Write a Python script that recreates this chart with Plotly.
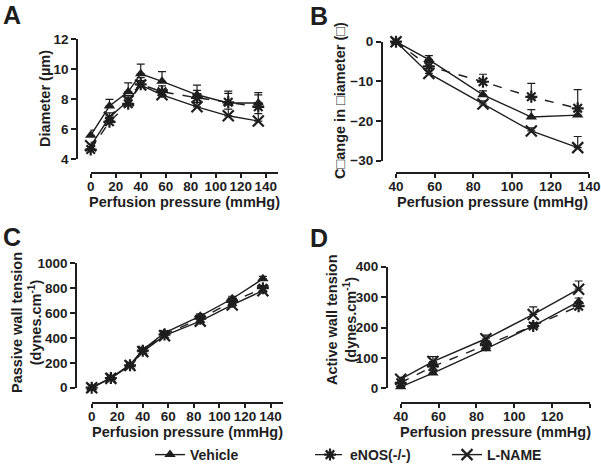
import plotly.graph_objects as go

# perfusion pressures (mmHg)
press_full = [0, 15, 30, 40, 57, 85, 110, 134]
press_act = [40, 57, 85, 110, 134]

# A - diameter (um)
veh_diam = [5.6, 7.55, 8.5, 9.7, 9.2, 8.3, 7.75, 7.75]
veh_diam_err = [0.35, 0.45, 0.6, 0.65, 0.65, 0.65, 0.8, 0.7]
enos_diam = [4.65, 6.5, 7.7, 9.0, 8.5, 8.1, 7.8, 7.5]
enos_diam_err = [0.3, 0.4, 0.45, 0.45, 0.4, 0.5, 0.6, 0.8]
lname_diam = [4.9, 6.8, 7.9, 8.95, 8.3, 7.5, 6.9, 6.55]
lname_diam_err = [0.25, 0.3, 0.35, 0.3, 0.3, 0.3, 0.45, 0.5]

# B - change in diameter (%)
veh_chg = [0, -4.5, -13.4, -19.0, -18.5]
veh_chg_err = [0.3, 1.0, 1.0, 1.9, 1.0]
enos_chg = [0, -6.2, -10.1, -13.9, -16.8]
enos_chg_err = [0.3, 1.0, 1.9, 3.4, 4.7]
lname_chg = [0, -8.0, -15.7, -22.5, -26.7]
lname_chg_err = [0.3, 0.8, 0.8, 0.8, 2.8]

# C - passive wall tension
veh_pas = [0, 80, 185, 305, 440, 575, 715, 875]
veh_pas_err = [5, 8, 10, 12, 15, 18, 20, 20]
enos_pas = [0, 78, 180, 298, 428, 555, 690, 800]
enos_pas_err = [5, 8, 10, 12, 15, 15, 18, 20]
lname_pas = [0, 75, 178, 290, 418, 535, 665, 780]
lname_pas_err = [5, 8, 10, 12, 15, 15, 18, 20]

# D - active wall tension
veh_act = [5, 50, 130, 205, 285]
veh_act_err = [5, 10, 10, 10, 12]
enos_act = [18, 72, 142, 205, 270]
enos_act_err = [5, 10, 10, 10, 10]
lname_act = [30, 88, 163, 243, 326]
lname_act_err = [6, 16, 12, 25, 27]

names = ["Vehicle", "eNOS(-/-)", "L-NAME"]
INK = "#1e1e1e"
W, H = 601, 471
FONT = "Liberation Sans, Arial, sans-serif"

styles = [
    dict(symbol="triangle-up", size=10, dash="solid", mline=0),
    dict(symbol="asterisk-open", size=10, dash="dash", mline=2.2),
    dict(symbol="x-thin-open", size=11, dash="solid", mline=2.2),
]
legends = ["legend", "legend2", "legend3"]

panels = [
    ("x", "y", press_full, [(veh_diam, veh_diam_err), (enos_diam, enos_diam_err), (lname_diam, lname_diam_err)]),
    ("x2", "y2", press_act, [(veh_chg, veh_chg_err), (enos_chg, enos_chg_err), (lname_chg, lname_chg_err)]),
    ("x3", "y3", press_full, [(veh_pas, veh_pas_err), (enos_pas, enos_pas_err), (lname_pas, lname_pas_err)]),
    ("x4", "y4", press_act, [(veh_act, veh_act_err), (enos_act, enos_act_err), (lname_act, lname_act_err)]),
]

fig = go.Figure()
for pi, (xa, ya, xs, series) in enumerate(panels):
    for si, (vals, err) in enumerate(series):
        st = styles[si]
        fig.add_trace(go.Scatter(
            x=xs, y=vals, xaxis=xa, yaxis=ya,
            mode="lines+markers", name=names[si],
            legend=legends[si], showlegend=(pi == 0),
            cliponaxis=False,
            line=dict(color=INK, width=1.4, dash=st["dash"]),
            marker=dict(symbol=st["symbol"], size=st["size"], color=INK,
                        line=dict(color=INK, width=st["mline"])),
            error_y=dict(type="data", array=err, arrayminus=[0] * len(err),
                         symmetric=False, color=INK, thickness=1.2, width=4),
        ))


def px_x(p):
    return p / W


def px_y(p):
    return 1 - p / H


tickfont = dict(family=FONT, size=13.5, color=INK, weight="bold")


def xaxis(dom, rng, pos):
    return dict(domain=[px_x(dom[0]), px_x(dom[1])], range=rng, dtick=20,
                anchor="free", position=px_y(pos), showline=True, linecolor=INK,
                linewidth=1.5, ticks="outside", ticklen=4, tickwidth=1.5,
                tickcolor=INK, showgrid=False, zeroline=False, tickfont=tickfont,
                tickangle=0, automargin=False, ticklabelstandoff=-3)


def yaxis(dom, rng, dt, pos):
    return dict(domain=[px_y(dom[1]), px_y(dom[0])], range=rng, dtick=dt,
                anchor="free", position=px_x(pos), showline=True, linecolor=INK,
                linewidth=1.5, ticks="outside", ticklen=5, tickwidth=1.5,
                tickcolor=INK, showgrid=False, zeroline=False, tickfont=tickfont,
                automargin=False)


legfont = dict(family=FONT, size=14, color=INK, weight="bold")
leg = dict(orientation="h", yanchor="bottom", y=0.0, xanchor="left",
           font=legfont, itemwidth=30, bgcolor="rgba(0,0,0,0)", borderwidth=0)

fig.update_layout(
    template="none",
    width=W, height=H, margin=dict(l=0, r=0, t=0, b=0, pad=0),
    plot_bgcolor="white", paper_bgcolor="white",
    font=dict(family=FONT, color=INK),
    xaxis=xaxis((90.7, 278.3), [0, 150], 173.3),
    yaxis=yaxis((39.3, 159.3), [4, 12], 2, 77),
    xaxis2=xaxis((396, 589.3), [40, 140], 173.3),
    yaxis2=yaxis((41.7, 160.7), [-30, 0], 10, 381.7),
    xaxis3=xaxis((91.7, 283.3), [0, 150], 403.3),
    yaxis3=yaxis((263.3, 387.7), [0, 1000], 200, 76),
    xaxis4=xaxis((400.7, 590), [40, 140], 403.3),
    yaxis4=yaxis((266.7, 388.3), [0, 400], 100, 386.7),
    legend=dict(leg, x=px_x(150)),
    legend2=dict(leg, x=px_x(310)),
    legend3=dict(leg, x=px_x(447)),
)

titlefont = dict(family=FONT, size=14.5, color=INK, weight="bold")
letterfont = dict(family=FONT, size=25, color=INK, weight="bold")


def note(text, x, y, font, angle=0, xanchor="center"):
    fig.add_annotation(text=text, x=px_x(x), y=px_y(y), xref="paper", yref="paper",
                       showarrow=False, font=font, textangle=angle,
                       xanchor=xanchor, yanchor="middle")


for letter, lx, ly in [("A", 1, 15), ("B", 308, 16), ("C", 1, 237), ("D", 308, 238)]:
    note(letter, lx, ly, letterfont, xanchor="left")

note("Perfusion pressure (mmHg)", 184.5, 202, titlefont)
note("Perfusion pressure (mmHg)", 492.6, 202, titlefont)
note("Perfusion pressure (mmHg)", 187.5, 432, titlefont)
note("Perfusion pressure (mmHg)", 495.3, 432, titlefont)
note("Diameter (µm)", 45, 99, titlefont, angle=-90)
note("C\u25a1ange in \u25a1iameter (\u25a1)", 340, 101, titlefont, angle=-90)
note("Passive wall tension<br>(dynes.cm<sup>-1</sup>)", 26, 323, titlefont, angle=-90)
note("Active wall tension<br>(dynes.cm<sup>-1</sup>)", 341, 320, titlefont, angle=-90)

fig.write_html("out.html", config={"displayModeBar": False},
               post_script="document.body.style.margin='0';"
                           "document.body.style.overflow='hidden';")
